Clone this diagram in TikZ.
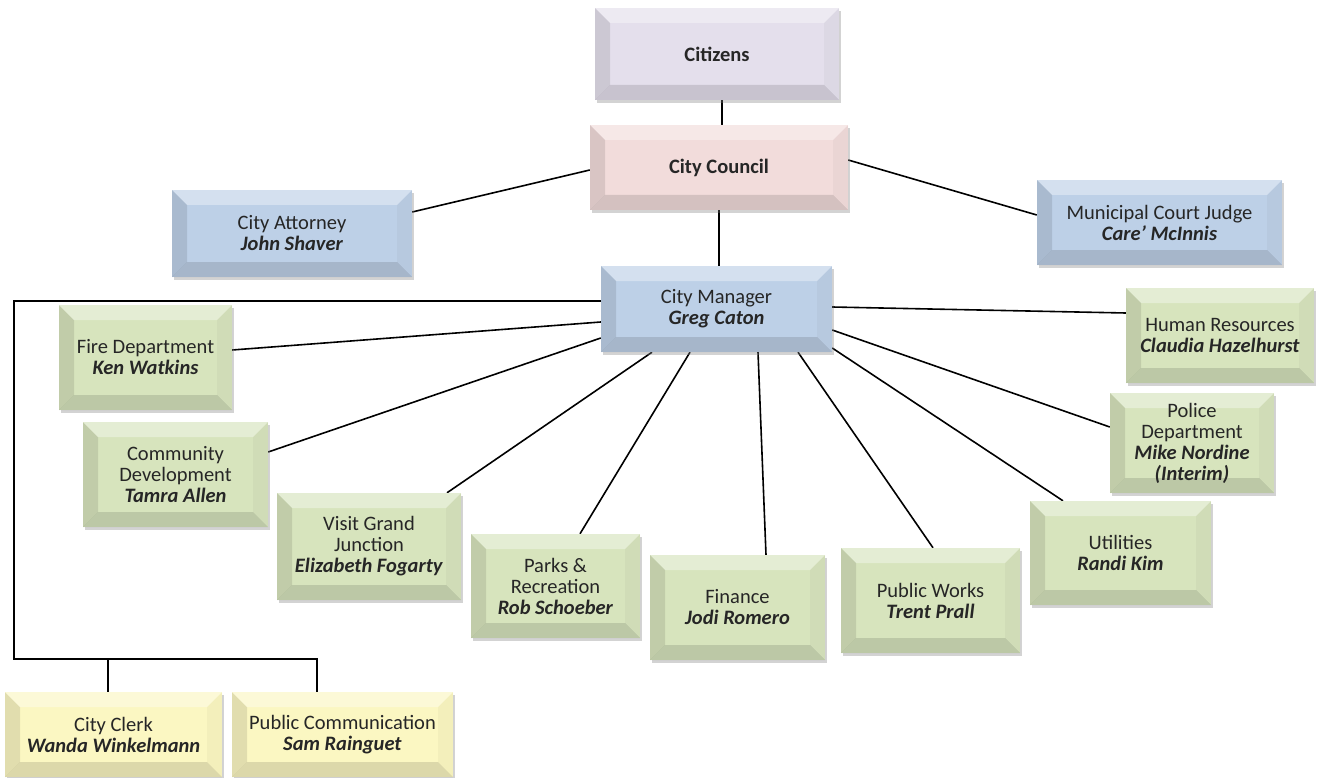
\documentclass[tikz,border=0pt]{standalone}
\usepackage{fontspec}
\setmainfont{Carlito}
\usetikzlibrary{shadows,backgrounds}
\definecolor{lilac}{HTML}{E4DFEC}
\definecolor{rose}{HTML}{F2DCDB}
\definecolor{steel}{HTML}{BDD0E7}
\definecolor{sage}{HTML}{D7E4BD}
\definecolor{cream}{HTML}{FBF7C2}
\newcommand{\bw}{15pt}
\newcommand{\nm}[1]{\textbf{\textit{#1}}}
\tikzset{
  box/.style={draw=none, fill=#1, align=center, inner sep=2pt, text=black!85,
    font=\fontsize{20.5}{21}\selectfont,
    drop shadow={shadow xshift=2pt, shadow yshift=-3pt, opacity=.35},
    path picture={
      \path (path picture bounding box.south west) coordinate (@sw)
            (path picture bounding box.north west) coordinate (@nw)
            (path picture bounding box.north east) coordinate (@ne)
            (path picture bounding box.south east) coordinate (@se);
      \fill[black,opacity=.10] (@sw) -- (@nw) -- ([shift={(\bw,-\bw)}]@nw) -- ([shift={(\bw,\bw)}]@sw) -- cycle;
      \fill[white,opacity=.35] (@nw) -- (@ne) -- ([shift={(-\bw,-\bw)}]@ne) -- ([shift={(\bw,-\bw)}]@nw) -- cycle;
      \fill[black,opacity=.03] (@ne) -- (@se) -- ([shift={(-\bw,\bw)}]@se) -- ([shift={(-\bw,-\bw)}]@ne) -- cycle;
      \fill[black,opacity=.12] (@sw) -- (@se) -- ([shift={(-\bw,\bw)}]@se) -- ([shift={(\bw,\bw)}]@sw) -- cycle;
    }},
  wire/.style={line width=1.6pt, black},
}
\begin{document}
\begin{tikzpicture}[x=1pt, y=-1pt]
  \useasboundingbox (0,0) rectangle (1333,778);
  % top of the chart
  \node[box=lilac, minimum width=244, minimum height=92] (cit) at (717,54) {\textbf{Citizens}};
  \node[box=rose, minimum width=258, minimum height=85] (cou) at (719,167.5) {\textbf{City Council}};
  \node[box=steel, minimum width=240, minimum height=87] (att) at (292,233.5) {City Attorney\\\nm{John Shaver}};
  \node[box=steel, minimum width=245, minimum height=85] (jdg) at (1159.5,222.5) {Municipal Court Judge\\\nm{Care' McInnis}};
  \node[box=steel, minimum width=231, minimum height=86] (mgr) at (716.5,309) {City Manager\\\nm{Greg Caton}};
  % departments
  \node[box=sage, minimum width=173, minimum height=105] (fir) at (145.5,357.5) {Fire Department\\\nm{Ken Watkins}};
  \node[box=sage, minimum width=185, minimum height=105] (com) at (175.5,474.5) {Community\\Development\\\nm{Tamra Allen}};
  \node[box=sage, minimum width=184, minimum height=107] (vis) at (369,546.5) {Visit Grand\\Junction\\\nm{Elizabeth Fogarty}};
  \node[box=sage, minimum width=169, minimum height=104] (prk) at (555.5,586) {Parks \&\\Recreation\\\nm{Rob Schoeber}};
  \node[box=sage, minimum width=175, minimum height=105] (fin) at (737.5,607.5) {Finance\\\nm{Jodi Romero}};
  \node[box=sage, minimum width=179, minimum height=105] (pwk) at (930.5,600.5) {Public Works\\\nm{Trent Prall}};
  \node[box=sage, minimum width=181, minimum height=104] (utl) at (1120.5,553) {Utilities\\\nm{Randi Kim}};
  \node[box=sage, minimum width=164, minimum height=100] (pol) at (1192,443) {Police\\Department\\\nm{Mike Nordine}\\\nm{(Interim)}};
  \node[box=sage, minimum width=188, minimum height=95] (hrs) at (1220,335.5) {Human Resources\\\nm{Claudia Hazelhurst}};
  % staff
  \node[box=cream, minimum width=217, minimum height=85] (clk) at (113.5,734.5) {City Clerk\\\nm{Wanda Winkelmann}};
  \node[box=cream, minimum width=221, minimum height=85] (pcm) at (342.5,734.5) {Public Communication\\\nm{Sam Rainguet}};
  \coordinate (bus) at (14,659);
  \begin{scope}[on background layer]
    \draw[wire] ([xshift=5]cit.south) -- ([xshift=3]cou.north);
    \draw[wire] ([yshift=-2.5]cou.west) -- ([yshift=21.5]att.east);
    \draw[wire] ([yshift=7.5]cou.east) -- ([yshift=7.5]jdg.west);
    \draw[wire] (cou.south) -- ([xshift=2.5]mgr.north);
    \draw[wire] ([yshift=-13]mgr.west) -- ([yshift=7.5]fir.east);
    \draw[wire] ([yshift=-29]mgr.west) -- ([yshift=22.5]com.east);
    \draw[wire] ([xshift=-64.5]mgr.south) -- ([xshift=78]vis.north);
    \draw[wire] ([xshift=-26.5]mgr.south) -- ([xshift=24.5]prk.north);
    \draw[wire] ([xshift=41.5]mgr.south) -- ([xshift=28.5]fin.north);
    \draw[wire] ([xshift=81.5]mgr.south) -- ([xshift=2.5]pwk.north);
    \draw[wire] ([yshift=-39]mgr.east) -- ([xshift=-57.5]utl.north);
    \draw[wire] ([yshift=-21]mgr.east) -- ([yshift=16]pol.west);
    \draw[wire] ([yshift=2]mgr.east) -- ([yshift=22.5]hrs.west);
    \draw[wire] ([yshift=8]mgr.west) -| (bus) -| ([xshift=-25.5]pcm.north);
    \draw[wire] ([xshift=-5.5]clk.north) |- (bus);
  \end{scope}
\end{tikzpicture}
\end{document}
